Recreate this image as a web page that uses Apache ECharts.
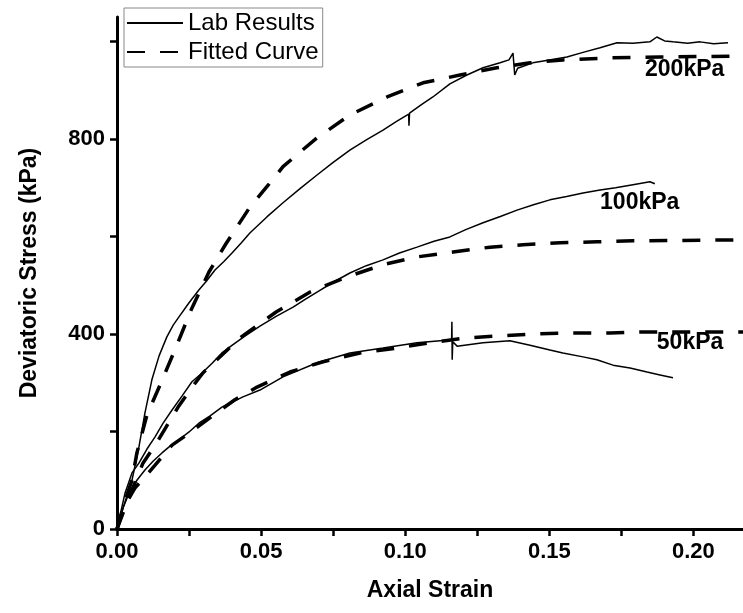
<!DOCTYPE html>
<html>
<head>
<meta charset="utf-8">
<script src="https://cdn.jsdelivr.net/npm/echarts@6/dist/echarts.min.js"></script>
<style>
html,body{margin:0;padding:0;background:#fff;}
#c{width:743px;height:613px;}
</style>
</head>
<body>
<div id="c"></div>
<script>
// ---- data ----
var xTicks = [0, 0.025, 0.05, 0.075, 0.10, 0.125, 0.15, 0.175, 0.20];
var xLabels = [0, 0.05, 0.10, 0.15, 0.20];
var yTicks = [0, 200, 400, 600, 800, 1000];
var yLabels = [0, 400, 800];

var lab200 = [[0,0],[0.0024,49],[0.0052,100],[0.0076,168],[0.0097,238],[0.0121,306],[0.0146,355],[0.0173,394],[0.0195,418],[0.0215,435],[0.0250,464],[0.0284,490],[0.0310,508],[0.0340,531],[0.0370,548],[0.0399,566],[0.0430,586],[0.0461,607],[0.0520,640],[0.0576,669],[0.0635,698],[0.0694,726],[0.0750,752],[0.0808,777],[0.0865,798],[0.0923,818],[0.0970,836],[0.1012,851],[0.1013,827],[0.1015,853],[0.1055,870],[0.1096,886],[0.1155,913],[0.1214,931],[0.1270,946],[0.1329,956],[0.1360,962],[0.1374,976],[0.1380,931],[0.1390,945],[0.1443,956],[0.1500,962],[0.1561,968],[0.1620,978],[0.1676,987],[0.1735,997],[0.1790,996],[0.1849,999],[0.1873,1009],[0.1900,1001],[0.1929,999],[0.1980,996],[0.2023,999],[0.2070,995],[0.2120,997]];
var lab100 = [[0,0],[0.0028,74],[0.0052,115],[0.0076,135],[0.0104,164],[0.0132,189],[0.0160,217],[0.0191,244],[0.0226,273],[0.0260,302],[0.0295,320],[0.0330,340],[0.0364,361],[0.0400,377],[0.0445,396],[0.0496,416],[0.0555,437],[0.0611,455],[0.0650,470],[0.0694,486],[0.0750,506],[0.0808,525],[0.0865,540],[0.0923,552],[0.0980,566],[0.1041,578],[0.1100,590],[0.1155,599],[0.1210,614],[0.1270,628],[0.1330,641],[0.1388,654],[0.1445,665],[0.1502,675],[0.1560,682],[0.1617,689],[0.1676,695],[0.1730,700],[0.1790,706],[0.1849,712],[0.1866,708]];
var lab50 = [[0,0],[0.0021,43],[0.0042,74],[0.0069,100],[0.0097,121],[0.0125,139],[0.0156,156],[0.0184,170],[0.0215,183],[0.0250,199],[0.0284,217],[0.0323,232],[0.0364,250],[0.0437,271],[0.0496,285],[0.0576,312],[0.0694,341],[0.0808,361],[0.0923,371],[0.1041,382],[0.1121,386],[0.1161,388],[0.1162,425],[0.1163,347],[0.1165,384],[0.1180,375],[0.1270,382],[0.1363,386],[0.1433,377],[0.1502,367],[0.1547,361],[0.1617,353],[0.1665,347],[0.1721,336],[0.1780,330],[0.1839,322],[0.1884,316],[0.1929,310]];

var fit200 = [[0,0],[0.0028,59],[0.0052,100],[0.0069,156],[0.0104,234],[0.0149,295],[0.0167,320],[0.0205,373],[0.0257,449],[0.0319,527],[0.0378,585],[0.0461,660],[0.0520,702],[0.0576,743],[0.0635,773],[0.0694,802],[0.0808,849],[0.0937,886],[0.1062,915],[0.1190,931],[0.1318,946],[0.1433,956],[0.1547,962],[0.1700,966],[0.1884,968],[0.2172,970]];
var fit100 = [[0,0],[0.0045,70],[0.0090,135],[0.0142,181],[0.0212,250],[0.0253,285],[0.0298,320],[0.0427,392],[0.0552,445],[0.0670,486],[0.0798,517],[0.0923,542],[0.1041,558],[0.1166,568],[0.1294,578],[0.1409,583],[0.1537,587],[0.1665,589],[0.1790,591],[0.2172,593]];
var fit50 = [[0,0],[0.0028,49],[0.0062,84],[0.0097,107],[0.0132,131],[0.0191,172],[0.0232,189],[0.0288,213],[0.0340,236],[0.0409,265],[0.0486,291],[0.0600,322],[0.0715,343],[0.0843,361],[0.0971,371],[0.1086,382],[0.1214,392],[0.1329,396],[0.1457,400],[0.1572,402],[0.1710,402],[0.1825,404],[0.2172,404]];

var curveLabels = [[0.1832, 942, '200kPa'], [0.1676, 669, '100kPa'], [0.1873, 382, '50kPa']];

var FONT = "'Liberation Sans', Arial, sans-serif";

function labSeries(d) {
  return {name: 'Lab Results', type: 'line', data: d, symbol: 'none', smooth: false,
    lineStyle: {color: '#000', width: 1.5}, itemStyle: {color: '#000', opacity: 0}, z: 3, silent: true};
}
function fitSeries(d) {
  return {name: 'Fitted Curve', type: 'line', data: d, symbol: 'none', smooth: false,
    lineStyle: {color: '#000', width: 3.5, type: [18, 15]}, itemStyle: {color: '#000', opacity: 0}, z: 2, silent: true};
}

var chart = echarts.init(document.getElementById('c'), null, {renderer: 'canvas'});
chart.setOption({
  animation: false,
  backgroundColor: '#fff',
  grid: {left: 117, right: 0, top: 17, bottom: 84},
  legend: {
    data: ['Lab Results', 'Fitted Curve'],
    orient: 'vertical', left: 124, top: 8,
    itemWidth: 56, itemHeight: 14, itemGap: 5,
    padding: [3, 4, 3, 2],
    borderColor: '#888', borderWidth: 1,
    itemStyle: {opacity: 0},
    textStyle: {fontFamily: FONT, fontSize: 24, color: '#000'},
    selectedMode: false
  },
  xAxis: {
    type: 'value', min: 0, max: 0.2172,
    name: 'Axial Strain', nameLocation: 'middle', nameGap: 50,
    nameTextStyle: {fontFamily: FONT, fontSize: 23, fontWeight: 'bold', color: '#000'},
    axisLine: {show: true, onZero: false, lineStyle: {color: '#000', width: 3}},
    axisTick: {show: true, length: 7, lineStyle: {color: '#000', width: 2.5}, customValues: xTicks},
    axisLabel: {fontFamily: FONT, fontSize: 22, fontWeight: 'bold', color: '#000', margin: 12,
      customValues: xLabels, formatter: function (v) { return v.toFixed(2); }},
    splitLine: {show: false}
  },
  yAxis: {
    type: 'value', min: 0, max: 1050,
    name: 'Deviatoric Stress (kPa)', nameLocation: 'middle', nameGap: 76,
    nameTextStyle: {fontFamily: FONT, fontSize: 23, fontWeight: 'bold', color: '#000'},
    axisLine: {show: true, onZero: false, lineStyle: {color: '#000', width: 3}},
    axisTick: {show: true, length: 7, lineStyle: {color: '#000', width: 2.5}, customValues: yTicks},
    axisLabel: {fontFamily: FONT, fontSize: 22, fontWeight: 'bold', color: '#000', margin: 12,
      customValues: yLabels, formatter: function (v) { return String(v); }},
    splitLine: {show: false}
  },
  series: [
    fitSeries(fit200), fitSeries(fit100), fitSeries(fit50),
    labSeries(lab200), labSeries(lab100), labSeries(lab50),
    {
      name: 'labels', type: 'scatter', symbolSize: 0, z: 5, silent: true,
      itemStyle: {color: '#000', opacity: 1},
      data: curveLabels.map(function (c) { return {value: [c[0], c[1]], name: c[2]}; }),
      label: {show: true, position: 'right', distance: 0, align: 'left', verticalAlign: 'middle',
        opacity: 1,
        formatter: function (p) { return p.name; },
        textBorderWidth: 0, textShadowBlur: 0,
        fontFamily: FONT, fontSize: 23, fontWeight: 'bold', color: '#000'}
    }
  ]
});
</script>
</body>
</html>
